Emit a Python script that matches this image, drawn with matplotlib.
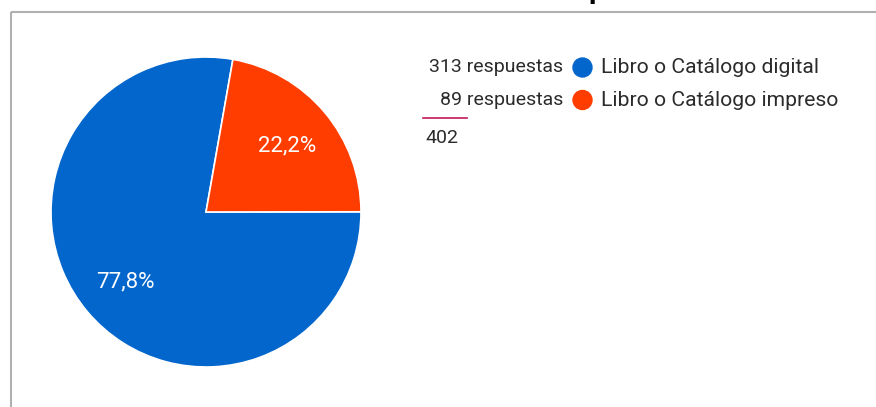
import matplotlib.pyplot as plt
from matplotlib.patches import Circle

plt.rcParams['font.family'] = ['Roboto', 'DejaVu Sans']

labels = ['Libro o Catálogo digital', 'Libro o Catálogo impreso']
counts = [313, 89]
percents = [77.8, 22.2]
colors = ['#0366cc', '#ff3d00']
total = 402

W, H = 876, 407
fig = plt.figure(figsize=(W / 100, H / 100), dpi=100)
ax = fig.add_axes([0, 0, 1, 1])

# pie drawn in pixel units (y up)
cx, cy, r = 206, H - 212, 155
wedges, texts, autotexts = ax.pie(
    percents, colors=colors, startangle=80, counterclock=True,
    center=(cx, cy), radius=r, pctdistance=0.68,
    autopct=lambda p: f"{p:.1f}%".replace('.', ','),
    wedgeprops=dict(edgecolor='white', linewidth=1.2),
    textprops=dict(color='white', fontsize=16))
for t in autotexts:
    t.set_y(t.get_position()[1] - 2)
ax.set_xlim(0, W)
ax.set_ylim(0, H)
ax.set_aspect('auto')
ax.axis('off')

# frame lines (top and left only)
ax.plot([10.5, W], [H - 11.5, H - 11.5], color='#b0b0b0', lw=1.5, solid_capstyle='butt')
ax.plot([10.5, 10.5], [0, H - 11.5], color='#b0b0b0', lw=1.5, solid_capstyle='butt')

# clipped title descender above the frame
fig.text(597 / W, 1 + 1.5 / H, 'p', fontsize=21, fontweight='bold',
         color='black', ha='center', va='baseline')

# legend
txt = '#2b2b2b'
rows_y = [67.5, 100]
for i, (lab, n, c) in enumerate(zip(labels, counts, colors)):
    y = H - rows_y[i]
    ax.text(563, y, f'{n} respuestas', ha='right', va='center', fontsize=14, color=txt)
    ax.add_patch(Circle((582.5, y), 9.5, color=c))
    ax.text(601, y, lab, ha='left', va='center', fontsize=15.2, color=txt)

ax.plot([423, 467], [H - 118, H - 118], color='#c2185b', lw=1.2)
ax.text(425, H - 138, str(total), ha='left', va='center', fontsize=14, color=txt)

fig.savefig('out.png', dpi=100)
